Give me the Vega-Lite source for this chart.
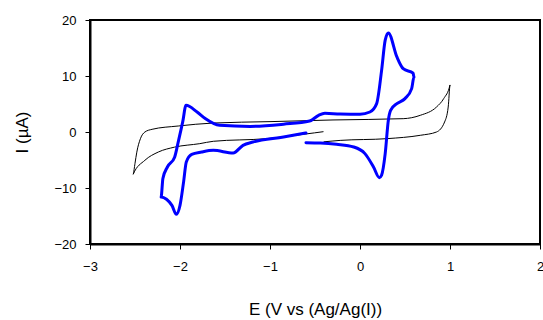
{
  "$schema": "https://vega.github.io/schema/vega-lite/v6.json",
  "width": 450,
  "height": 224,
  "autosize": {"type": "none"},
  "padding": {"left": 90, "top": 20, "right": 3, "bottom": 76},
  "config": {
    "font": "Liberation Sans",
    "view": {"stroke": "#000000", "strokeWidth": 2},
    "axis": {"grid": false, "domainColor": "#000000", "domainWidth": 2, "tickColor": "#000000", "tickSize": 5, "tickWidth": 1, "labelColor": "#000000", "labelFontSize": 13, "titleColor": "#000000", "titleFontSize": 17, "titleFontWeight": "normal"}
  },
  "data": {"values": [
    {"s": "black", "o": 1, "E": -0.41, "I": 0.05},
    {"s": "black", "o": 2, "E": -0.6, "I": -0.35},
    {"s": "black", "o": 3, "E": -1.04, "I": -1.19},
    {"s": "black", "o": 4, "E": -1.63, "I": -1.66},
    {"s": "black", "o": 5, "E": -1.78, "I": -2.08},
    {"s": "black", "o": 6, "E": -2.06, "I": -2.7},
    {"s": "black", "o": 7, "E": -2.24, "I": -3.57},
    {"s": "black", "o": 8, "E": -2.39, "I": -5.05},
    {"s": "black", "o": 9, "E": -2.52, "I": -7.55},
    {"s": "black", "o": 10, "E": -2.50, "I": -5.6},
    {"s": "black", "o": 11, "E": -2.48, "I": -3.6},
    {"s": "black", "o": 12, "E": -2.44, "I": -1.2},
    {"s": "black", "o": 13, "E": -2.39, "I": 0.0},
    {"s": "black", "o": 14, "E": -2.31, "I": 0.48},
    {"s": "black", "o": 15, "E": -2.02, "I": 1.07},
    {"s": "black", "o": 16, "E": -1.63, "I": 1.6},
    {"s": "black", "o": 17, "E": -1.0, "I": 1.85},
    {"s": "black", "o": 18, "E": -0.3, "I": 2.15},
    {"s": "black", "o": 19, "E": 0.48, "I": 2.38},
    {"s": "black", "o": 20, "E": 0.67, "I": 2.98},
    {"s": "black", "o": 21, "E": 0.85, "I": 4.46},
    {"s": "black", "o": 22, "E": 0.93, "I": 5.96},
    {"s": "black", "o": 23, "E": 1.0, "I": 8.4},
    {"s": "black", "o": 24, "E": 0.98, "I": 4.46},
    {"s": "black", "o": 25, "E": 0.94, "I": 1.79},
    {"s": "black", "o": 26, "E": 0.85, "I": 0.0},
    {"s": "black", "o": 27, "E": 0.67, "I": -0.59},
    {"s": "black", "o": 28, "E": 0.3, "I": -1.19},
    {"s": "black", "o": 29, "E": -0.22, "I": -1.5},
    {"s": "black", "o": 30, "E": -0.40, "I": -1.75},
    {"s": "blue", "o": 1, "E": -0.6, "I": -1.9},
    {"s": "blue", "o": 2, "E": -0.44, "I": -1.96},
    {"s": "blue", "o": 3, "E": -0.26, "I": -2.2},
    {"s": "blue", "o": 4, "E": -0.07, "I": -2.68},
    {"s": "blue", "o": 5, "E": 0.055, "I": -3.86},
    {"s": "blue", "o": 6, "E": 0.15, "I": -6.25},
    {"s": "blue", "o": 7, "E": 0.215, "I": -8.15},
    {"s": "blue", "o": 8, "E": 0.24, "I": -7.7},
    {"s": "blue", "o": 9, "E": 0.28, "I": -3.86},
    {"s": "blue", "o": 10, "E": 0.315, "I": 2.1},
    {"s": "blue", "o": 11, "E": 0.34, "I": 3.87},
    {"s": "blue", "o": 12, "E": 0.41, "I": 5.07},
    {"s": "blue", "o": 13, "E": 0.5, "I": 5.96},
    {"s": "blue", "o": 14, "E": 0.574, "I": 7.75},
    {"s": "blue", "o": 15, "E": 0.6, "I": 9.8},
    {"s": "blue", "o": 16, "E": 0.59, "I": 10.5},
    {"s": "blue", "o": 17, "E": 0.48, "I": 11.3},
    {"s": "blue", "o": 18, "E": 0.41, "I": 13.4},
    {"s": "blue", "o": 19, "E": 0.315, "I": 17.7},
    {"s": "blue", "o": 20, "E": 0.28, "I": 16.4},
    {"s": "blue", "o": 21, "E": 0.24, "I": 11.0},
    {"s": "blue", "o": 22, "E": 0.185, "I": 5.07},
    {"s": "blue", "o": 23, "E": 0.11, "I": 3.57},
    {"s": "blue", "o": 24, "E": 0.0, "I": 3.16},
    {"s": "blue", "o": 25, "E": -0.22, "I": 3.2},
    {"s": "blue", "o": 26, "E": -0.39, "I": 3.35},
    {"s": "blue", "o": 27, "E": -0.46, "I": 2.98},
    {"s": "blue", "o": 28, "E": -0.56, "I": 1.96},
    {"s": "blue", "o": 29, "E": -0.85, "I": 1.4},
    {"s": "blue", "o": 30, "E": -1.22, "I": 1.0},
    {"s": "blue", "o": 31, "E": -1.56, "I": 1.2},
    {"s": "blue", "o": 32, "E": -1.72, "I": 2.4},
    {"s": "blue", "o": 33, "E": -1.81, "I": 3.57},
    {"s": "blue", "o": 34, "E": -1.933, "I": 4.77},
    {"s": "blue", "o": 35, "E": -1.97, "I": 1.8},
    {"s": "blue", "o": 36, "E": -2.02, "I": -1.8},
    {"s": "blue", "o": 37, "E": -2.06, "I": -4.5},
    {"s": "blue", "o": 38, "E": -2.14, "I": -6.25},
    {"s": "blue", "o": 39, "E": -2.19, "I": -8.3},
    {"s": "blue", "o": 40, "E": -2.21, "I": -11.6},
    {"s": "blue", "o": 41, "E": -2.15, "I": -12.0},
    {"s": "blue", "o": 42, "E": -2.09, "I": -13.1},
    {"s": "blue", "o": 43, "E": -2.04, "I": -14.7},
    {"s": "blue", "o": 44, "E": -2.0, "I": -13.1},
    {"s": "blue", "o": 45, "E": -1.96, "I": -8.9},
    {"s": "blue", "o": 46, "E": -1.93, "I": -5.36},
    {"s": "blue", "o": 47, "E": -1.87, "I": -4.0},
    {"s": "blue", "o": 48, "E": -1.76, "I": -3.57},
    {"s": "blue", "o": 49, "E": -1.63, "I": -3.27},
    {"s": "blue", "o": 50, "E": -1.41, "I": -3.75},
    {"s": "blue", "o": 51, "E": -1.3, "I": -2.38},
    {"s": "blue", "o": 52, "E": -1.19, "I": -1.79},
    {"s": "blue", "o": 53, "E": -0.85, "I": -0.89},
    {"s": "blue", "o": 54, "E": -0.6, "I": -0.18}
  ]},
  "mark": {"type": "line", "strokeJoin": "round", "strokeCap": "round", "interpolate": "monotone"},
  "encoding": {
    "x": {"field": "E", "type": "quantitative", "scale": {"domain": [-3, 2], "nice": false, "zero": false}, "axis": {"values": [-3, -2, -1, 0, 1, 2], "title": "E (V vs (Ag/Ag(I))", "labelPadding": 11, "titlePadding": 28, "labelFlush": false}},
    "y": {"field": "I", "type": "quantitative", "scale": {"domain": [-20, 20], "nice": false, "zero": false}, "axis": {"values": [-20, -10, 0, 10, 20], "title": "I (µA)", "labelPadding": 9, "titlePadding": 22, "labelFlush": false}},
    "order": {"field": "o", "type": "quantitative"},
    "color": {"field": "s", "type": "nominal", "scale": {"domain": ["black", "blue"], "range": ["#000000", "#0000ff"]}, "legend": null},
    "strokeWidth": {"field": "s", "type": "nominal", "scale": {"domain": ["black", "blue"], "range": [1, 3]}, "legend": null}
  }
}
